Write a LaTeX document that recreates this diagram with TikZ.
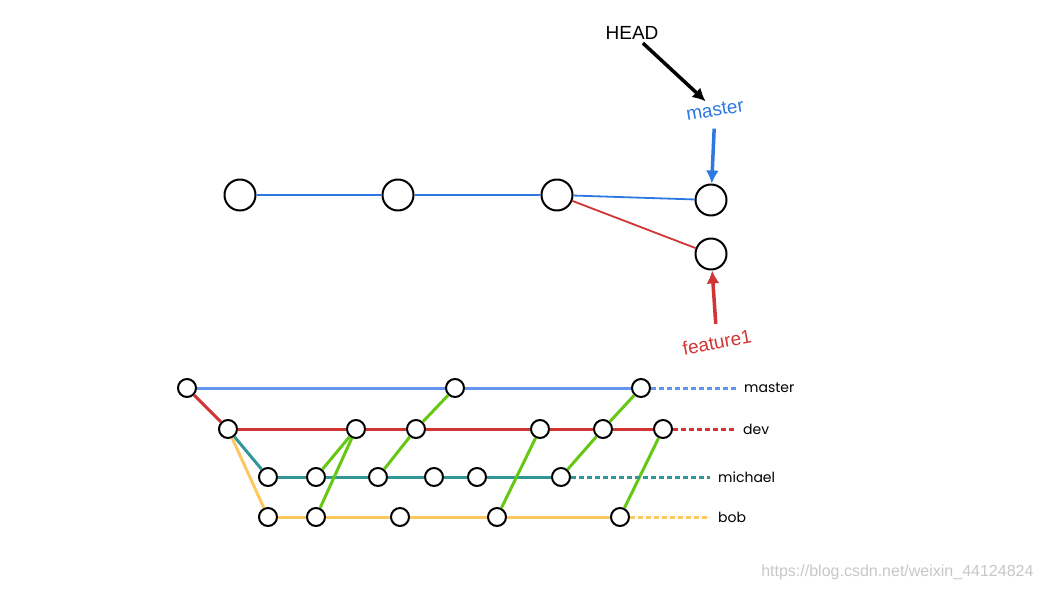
\documentclass[tikz,border=0pt]{standalone}
\usepackage{fontspec}
\usetikzlibrary{arrows.meta}
\setmainfont{Liberation Sans}
\newfontfamily\branchfont{Poppins}
\definecolor{topblue}{RGB}{45,120,225}
\definecolor{masterblue}{RGB}{100,150,240}
\definecolor{devred}{RGB}{208,52,52}
\definecolor{michaelteal}{RGB}{50,150,150}
\definecolor{bobyellow}{RGB}{255,200,95}
\definecolor{mergegreen}{RGB}{102,200,20}
\begin{document}
\begin{tikzpicture}[x=1pt,y=-1pt,>={Latex[length=13pt,width=13pt]},line join=bevel,
  bigcommit/.style={circle,draw=black,line width=2pt,minimum size=31pt,inner sep=0pt,fill=white},
  commit/.style={circle,draw=black,line width=2pt,minimum size=18pt,inner sep=0pt,fill=white},
  ptrlabel/.style={font=\fontsize{19}{22}\selectfont,inner sep=2pt},
  branchlabel/.style={font=\branchfont\fontsize{14}{16}\selectfont,anchor=west,inner sep=3pt},
  branchline/.style={line width=3pt},
  tail/.style={line width=3pt,dash pattern=on 5pt off 3pt,shorten >=5pt}]
\useasboundingbox (0,0) rectangle (1044,591);
%%
  % Node: top commits
  \node[bigcommit] (t1) at (240,195) {};
  \node[bigcommit] (t2) at (398,195) {};
  \node[bigcommit] (t3) at (557,195) {};
  \node[bigcommit] (t4) at (711,200) {};
  \node[bigcommit] (t5) at (711,254) {};
  % Node: pointers
  \node[ptrlabel] (head) at (632,33) {HEAD};
  \node[ptrlabel,text=topblue,rotate=9] (mtag) at (715,110) {master};
  \node[ptrlabel,text=devred,rotate=11] (ftag) at (717,342) {feature1};
  % Edge: master line
  \draw[topblue,line width=1.8pt] (t1) -- (t2) -- (t3) -- (t4);
  % Edge: feature1 branch
  \draw[devred,line width=1.8pt] (t3) -- (t5);
  % Edge: pointer arrows
  \draw[->,line width=3.5pt,shorten <=2pt,shorten >=2pt] (head) -- (mtag);
  \draw[->,topblue,line width=3.5pt,shorten <=10pt] (mtag) -- (t4);
  \draw[->,devred,line width=3.5pt,shorten <=9pt] (ftag) -- (t5);
%%
  % Node: master row
  \node[commit] (m0) at (187,388) {};
  \node[commit] (m1) at (455,388) {};
  \node[commit] (m2) at (641,388) {};
  % Node: dev row
  \node[commit] (d0) at (228,429) {};
  \node[commit] (d1) at (356,429) {};
  \node[commit] (d2) at (416,429) {};
  \node[commit] (d3) at (540,429) {};
  \node[commit] (d4) at (603,429) {};
  \node[commit] (d5) at (663,429) {};
  % Node: michael row
  \node[commit] (c0) at (268,477) {};
  \node[commit] (c1) at (316,477) {};
  \node[commit] (c2) at (378,477) {};
  \node[commit] (c3) at (434,477) {};
  \node[commit] (c4) at (477,477) {};
  \node[commit] (c5) at (561,477) {};
  % Node: bob row
  \node[commit] (b0) at (268,517) {};
  \node[commit] (b1) at (316,517) {};
  \node[commit] (b2) at (400,517) {};
  \node[commit] (b3) at (497,517) {};
  \node[commit] (b4) at (620,517) {};
  % Node: branch names
  \node[branchlabel] (lmaster) at (741,388) {master};
  \node[branchlabel] (ldev) at (740,429) {dev};
  \node[branchlabel] (lmichael) at (715,477) {michael};
  \node[branchlabel] (lbob) at (715,517) {bob};
  % Edge: branch lines
  \draw[branchline,masterblue] (m0) -- (m1) -- (m2);
  \draw[branchline,devred] (m0) -- (d0);
  \draw[branchline,devred] (d0) -- (d1) -- (d2) -- (d3) -- (d4) -- (d5);
  \draw[branchline,michaelteal] (d0) -- (c0);
  \draw[branchline,michaelteal] (c0) -- (c1) -- (c2) -- (c3) -- (c4) -- (c5);
  \draw[branchline,bobyellow] (d0) -- (b0);
  \draw[branchline,bobyellow] (b0) -- (b1) -- (b2) -- (b3) -- (b4);
  % Edge: merges
  \draw[branchline,mergegreen] (c1) -- (d1);
  \draw[branchline,mergegreen] (b1) -- (d1);
  \draw[branchline,mergegreen] (c2) -- (d2) -- (m1);
  \draw[branchline,mergegreen] (b3) -- (d3);
  \draw[branchline,mergegreen] (c5) -- (d4) -- (m2);
  \draw[branchline,mergegreen] (b4) -- (d5);
  % Edge: tails
  \draw[tail,masterblue] (m2) -- (lmaster);
  \draw[tail,devred] (d5) -- (ldev);
  \draw[tail,michaelteal] (c5) -- (lmichael);
  \draw[tail,bobyellow] (b4) -- (lbob);
%
  \node[text=black!22,anchor=east,font=\fontsize{16}{18}\selectfont] (mark) at (1037,572) {https://blog.csdn.net/weixin\_44124824};
\end{tikzpicture}
\end{document}
